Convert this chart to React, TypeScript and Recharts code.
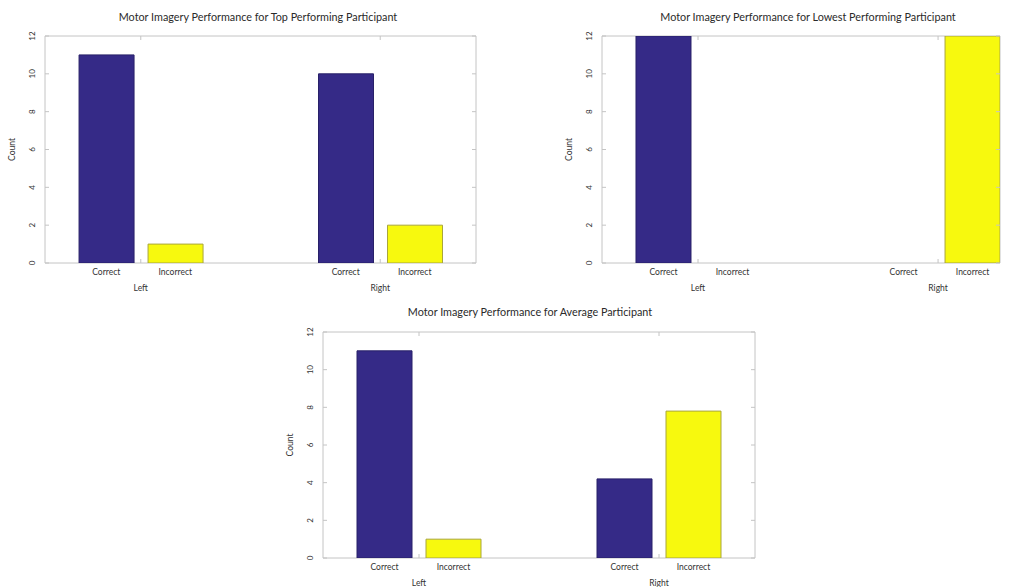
import { BarChart, Bar, XAxis, YAxis, ReferenceArea } from "recharts";

const GROUPS = ["Left", "Right"];
const OUTCOMES = ["Correct", "Incorrect"];
const GROUP_X = [1, 2];
const Y_TICKS = [0, 2, 4, 6, 8, 10, 12];

const TOP_CORRECT = [11, 10];
const TOP_INCORRECT = [1, 2];
const LOW_CORRECT = [12, 0];
const LOW_INCORRECT = [0, 12];
const AVG_CORRECT = [11, 4.2];
const AVG_INCORRECT = [1, 7.8];

const NAVY = "#352a87";
const YELLOW = "#f7f90e";
const FRAME = "#c4c4c4";
const FONT = "Lato, 'Open Sans', sans-serif";

const BAR_SIZE = 55;
const BAR_GAP = 14;

interface PanelProps {
  title: string;
  correct: number[];
  incorrect: number[];
  plotLeft: number;
  plotTop: number;
  plotWidth: number;
  plotHeight: number;
  xMax: number;
  titleX: number;
  titleY: number;
}

function Panel({
  title,
  correct,
  incorrect,
  plotLeft,
  plotTop,
  plotWidth,
  plotHeight,
  xMax,
  titleX,
  titleY,
}: PanelProps) {
  const data = GROUPS.map((g, i) => ({
    x: GROUP_X[i],
    group: g,
    correct: correct[i],
    incorrect: incorrect[i],
  }));

  const axisW = 50;
  const padTop = 6;
  const width = axisW + plotWidth + 6;
  const height = padTop + plotHeight + 40;

  // y tick: rotated label plus inward marks on both sides of the box
  const renderYTick = (p: any) => {
    const { x, y, payload } = p;
    const left = x + 10;
    const right = left + plotWidth;
    return (
      <g>
        <text
          x={x}
          y={y}
          transform={`rotate(-90 ${x} ${y})`}
          textAnchor="middle"
          fontSize={8}
          fill="#333"
          fontFamily={FONT}
        >
          {payload.value}
        </text>
        <line x1={left} y1={y} x2={left + 4} y2={y} stroke={FRAME} />
        <line x1={right - 4} y1={y} x2={right} y2={y} stroke={FRAME} />
      </g>
    );
  };

  // x tick: outcome labels under each bar, group label below, inward marks
  const renderXTick = (p: any) => {
    const { x, y, payload, index } = p;
    const off = (BAR_SIZE + BAR_GAP) / 2;
    return (
      <g fontFamily={FONT} fill="#333">
        <line x1={x} y1={y} x2={x} y2={y - 4} stroke={FRAME} />
        <line x1={x} y1={y - plotHeight} x2={x} y2={y - plotHeight + 4} stroke={FRAME} />
        <text x={x - off} y={y + 12} textAnchor="middle" fontSize={8.5}>
          {OUTCOMES[0]}
        </text>
        <text x={x + off} y={y + 12} textAnchor="middle" fontSize={8.5}>
          {OUTCOMES[1]}
        </text>
        <text x={x} y={y + 28} textAnchor="middle" fontSize={8.5}>
          {GROUPS[index] ?? payload.value}
        </text>
      </g>
    );
  };

  const countLabel = (p: any) => {
    const vb = p.viewBox;
    const cx = vb.x + 20;
    const cy = vb.y + vb.height / 2;
    return (
      <text
        x={cx}
        y={cy}
        transform={`rotate(-90 ${cx} ${cy})`}
        textAnchor="middle"
        fontSize={8.5}
        fill="#333"
        fontFamily={FONT}
      >
        Count
      </text>
    );
  };

  return (
    <>
      <div
        style={{
          position: "absolute",
          left: titleX - 250,
          top: titleY - 8,
          width: 500,
          textAlign: "center",
          fontFamily: FONT,
          fontSize: 10.8,
          color: "#2a2a2a",
          lineHeight: "16px",
          whiteSpace: "nowrap",
        }}
      >
        {title}
      </div>
      <div
        style={{
          position: "absolute",
          left: plotLeft - axisW,
          top: plotTop - padTop,
        }}
      >
        <BarChart
          width={width}
          height={height}
          data={data}
          barGap={BAR_GAP}
          margin={{ top: padTop, right: 6, bottom: 0, left: 0 }}
        >
          <ReferenceArea
            x1={0.6}
            x2={xMax}
            y1={0}
            y2={12}
            fill="none"
            stroke={FRAME}
            strokeWidth={1}
            ifOverflow="visible"
          />
          <XAxis
            type="number"
            dataKey="x"
            domain={[0.6, xMax]}
            ticks={GROUP_X}
            tickCount={2}
            allowDataOverflow
            axisLine={false}
            tickLine={false}
            tickSize={0}
            tickMargin={0}
            height={40}
            tick={renderXTick}
            interval={0}
          />
          <YAxis
            domain={[0, 12]}
            ticks={Y_TICKS}
            allowDataOverflow
            width={axisW}
            axisLine={false}
            tickLine={false}
            tickSize={0}
            tickMargin={10}
            tick={renderYTick}
            interval={0}
            label={{ content: countLabel }}
          />
          <Bar
            dataKey="correct"
            barSize={BAR_SIZE}
            fill={NAVY}
            stroke="#282068"
            strokeWidth={1}
            isAnimationActive={false}
          />
          <Bar
            dataKey="incorrect"
            barSize={BAR_SIZE}
            fill={YELLOW}
            stroke="#a9a63c"
            strokeWidth={1}
            isAnimationActive={false}
          />
        </BarChart>
      </div>
    </>
  );
}

export default function App() {
  return (
    <div
      style={{
        position: "absolute",
        left: 0,
        top: 0,
        width: 1024,
        height: 587,
        overflow: "hidden",
        background: "#fff",
      }}
    >
      <Panel
        title="Motor Imagery Performance for Top Performing Participant"
        correct={TOP_CORRECT}
        incorrect={TOP_INCORRECT}
        plotLeft={45}
        plotTop={36}
        plotWidth={431}
        plotHeight={227}
        xMax={2.4}
        titleX={258}
        titleY={17}
      />
      <Panel
        title="Motor Imagery Performance for Lowest Performing Participant"
        correct={LOW_CORRECT}
        incorrect={LOW_INCORRECT}
        plotLeft={602}
        plotTop={36}
        plotWidth={398}
        plotHeight={227}
        xMax={2.258}
        titleX={808}
        titleY={17}
      />
      <Panel
        title="Motor Imagery Performance for Average Participant"
        correct={AVG_CORRECT}
        incorrect={AVG_INCORRECT}
        plotLeft={323}
        plotTop={332}
        plotWidth={432}
        plotHeight={226}
        xMax={2.4}
        titleX={530}
        titleY={312}
      />
    </div>
  );
}
